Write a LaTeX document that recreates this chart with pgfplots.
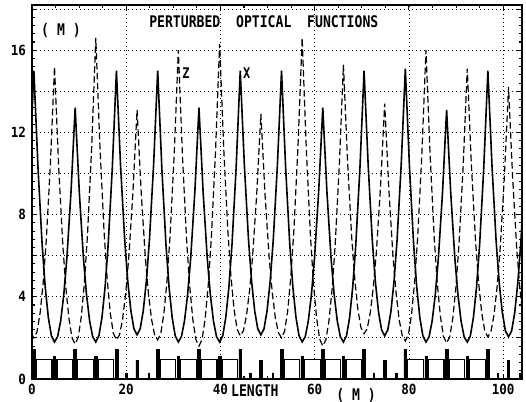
\documentclass[border=0pt]{standalone}
\usepackage{fontspec}
\usepackage{pgfplots}
\pgfplotsset{compat=1.18}
\newfontfamily\plotfont[FakeStretch=0.82]{DejaVu Sans Mono}
\newfontfamily\tickfont[FakeStretch=0.9]{DejaVu Sans Mono}

% beta functions: solid = X, dashed = Z
\pgfplotstableread{
s beta
-0.48 10.36
0.40 15.0
1.28 10.25
2.15 6.55
2.81 4.47
3.47 2.99
4.12 2.10
4.78 1.8
5.44 2.06
6.09 2.83
6.75 4.11
7.41 5.90
8.28 9.10
9.16 13.2
10.04 9.10
10.91 5.90
11.57 4.11
12.23 2.83
12.88 2.06
13.54 1.8
14.20 2.10
14.85 2.99
15.51 4.47
16.17 6.55
17.04 10.25
17.92 15.0
18.80 10.37
19.67 6.78
20.33 4.75
20.99 3.31
21.64 2.44
22.30 2.15
22.96 2.44
23.61 3.31
24.27 4.75
24.93 6.78
25.80 10.37
26.68 15.0
27.56 10.25
28.43 6.55
29.09 4.47
29.75 2.99
30.40 2.10
31.06 1.8
31.72 2.06
32.37 2.83
33.03 4.11
33.69 5.90
34.56 9.10
35.44 13.2
36.32 9.10
37.19 5.90
37.85 4.11
38.51 2.83
39.16 2.06
39.82 1.8
40.48 2.10
41.13 2.99
41.79 4.47
42.45 6.55
43.32 10.25
44.20 15.0
45.08 10.37
45.95 6.78
46.61 4.75
47.27 3.31
47.92 2.44
48.58 2.15
49.24 2.44
49.89 3.31
50.55 4.75
51.21 6.78
52.08 10.37
52.96 15.0
53.84 10.25
54.71 6.55
55.37 4.47
56.03 2.99
56.68 2.10
57.34 1.8
58.00 2.06
58.65 2.83
59.31 4.11
59.97 5.90
60.84 9.10
61.72 13.2
62.60 9.10
63.47 5.90
64.13 4.11
64.79 2.83
65.44 2.06
66.10 1.8
66.76 2.10
67.41 2.99
68.07 4.47
68.73 6.55
69.60 10.25
70.48 15.0
71.36 10.36
72.23 6.74
72.89 4.71
73.55 3.26
74.20 2.39
74.86 2.1
75.52 2.39
76.17 3.27
76.83 4.73
77.49 6.78
78.36 10.42
79.24 15.1
80.12 10.31
80.99 6.59
81.65 4.49
82.31 3.00
82.96 2.10
83.62 1.8
84.28 2.05
84.93 2.82
85.59 4.09
86.25 5.87
87.12 9.03
88.00 13.1
88.88 9.03
89.75 5.87
90.41 4.09
91.07 2.82
91.72 2.05
92.38 1.8
93.04 2.10
93.69 2.99
94.35 4.47
95.01 6.55
95.88 10.25
96.76 15.0
97.64 10.34
98.51 6.71
99.17 4.67
99.83 3.22
100.48 2.34
101.14 2.05
101.80 2.34
102.45 3.22
103.11 4.67
103.77 6.71
104.64 10.34
105.52 15.0
}\betax

\pgfplotstableread{
s beta
-0.26 2.25
0.40 2.0
1.06 2.30
1.71 3.19
2.37 4.67
3.03 6.75
3.90 10.45
4.78 15.2
5.66 10.34
6.53 6.56
7.19 4.43
7.85 2.92
8.50 2.00
9.16 1.7
9.82 2.04
10.47 3.04
11.13 4.72
11.79 7.06
12.66 11.24
13.54 16.6
14.42 11.31
15.29 7.19
15.95 4.88
16.61 3.22
17.26 2.23
17.92 1.9
18.58 2.15
19.23 2.91
19.89 4.17
20.55 5.93
21.42 9.07
22.30 13.1
23.18 9.07
24.05 5.93
24.71 4.17
25.37 2.91
26.02 2.15
26.68 1.9
27.34 2.22
27.99 3.17
28.65 4.76
29.31 6.98
30.18 10.92
31.06 16.0
31.94 10.82
32.81 6.78
33.47 4.52
34.13 2.90
34.78 1.92
35.44 1.6
36.10 1.93
36.75 2.92
37.41 4.58
38.07 6.89
38.94 11.01
39.82 16.3
40.70 11.19
41.57 7.21
42.23 4.98
42.89 3.38
43.54 2.42
44.20 2.1
44.86 2.34
45.51 3.07
46.17 4.29
46.83 5.99
47.70 9.01
48.58 12.9
49.46 8.98
50.33 5.92
50.99 4.21
51.65 2.98
52.30 2.25
52.96 2.0
53.62 2.33
54.27 3.31
54.93 4.96
55.59 7.26
56.46 11.34
57.34 16.6
58.22 11.20
59.09 7.00
59.75 4.64
60.41 2.95
61.06 1.94
61.72 1.6
62.38 1.91
63.03 2.83
63.69 4.37
64.35 6.53
65.22 10.37
66.10 15.3
66.98 10.58
67.85 6.92
68.51 4.85
69.17 3.38
69.82 2.50
70.48 2.2
71.14 2.45
71.79 3.21
72.45 4.47
73.11 6.23
73.98 9.37
74.86 13.4
75.74 9.24
76.61 6.01
77.27 4.19
77.93 2.89
78.58 2.11
79.24 1.85
79.90 2.17
80.55 3.12
81.21 4.72
81.87 6.94
82.74 10.91
83.62 16.0
84.50 10.87
85.37 6.88
86.03 4.64
86.69 3.03
87.34 2.07
88.00 1.75
88.66 2.05
89.31 2.95
89.97 4.45
90.63 6.56
91.50 10.29
92.38 15.1
93.26 10.40
94.13 6.75
94.79 4.69
95.45 3.22
96.10 2.34
96.76 2.05
97.42 2.32
98.07 3.14
98.73 4.51
99.39 6.42
100.26 9.83
101.14 14.2
102.02 9.77
102.89 6.33
103.55 4.39
104.21 3.01
104.86 2.18
105.52 1.9
}\betaz

\begin{document}
\begin{tikzpicture}
\useasboundingbox (-24pt,-17.25pt) rectangle (370.5pt,284.25pt);
\begin{axis}[
  at={(0,0)}, anchor=south west,
  scale only axis, width=367.5pt, height=280.5pt,
  xmin=0, xmax=104, ymin=0, ymax=18.2,
  xtick={0,20,...,100}, ytick={0,2,...,18},
  yticklabels={0,,4,,8,,12,,16,},
  minor x tick num=3, minor y tick num=4,
  major tick length=4pt, minor tick length=2.5pt,
  grid=major,
  major grid style={black, line width=0.6pt, dash pattern=on 0.7pt off 2.3pt},
  axis line style={line width=1pt},
  tick style={black, line width=0.8pt},
  ticklabel style={font=\tickfont\bfseries\fontsize{10.5}{12}\selectfont},
  yticklabel style={xshift=-1pt},
  /pgf/number format/assume math mode=true,
  clip mode=individual,
]
% bending magnets
\addplot[ybar, bar width=3.3, bar shift=0pt, draw=black, line width=0.9pt, fill=white] coordinates {
 (2.59,0.95)(6.97,0.95)(11.35,0.95)(15.73,0.95)
 (28.87,0.95)(33.25,0.95)(37.63,0.95)(42.01,0.95)
 (55.15,0.95)(59.53,0.95)(63.91,0.95)(68.29,0.95)
 (81.43,0.95)(85.81,0.95)(90.19,0.95)(94.57,0.95)
};
% focusing quadrupoles
\addplot[ybar, bar width=0.6, bar shift=0pt, draw=black, fill=black] coordinates {
 (0.40,1.45)(9.16,1.45)(17.92,1.45)(26.68,1.45)(35.44,1.45)(44.20,1.45)
 (52.96,1.45)(61.72,1.45)(70.48,1.45)(79.24,1.45)(88.00,1.45)(96.76,1.45)
};
% defocusing quadrupoles
\addplot[ybar, bar width=0.5, bar shift=0pt, draw=black, fill=black] coordinates {
 (4.78,1.1)(13.54,1.1)(22.30,0.9)(31.06,1.1)(39.82,1.1)(48.58,0.9)
 (57.34,1.1)(66.10,1.1)(74.86,0.9)(83.62,1.1)(92.38,1.1)(101.14,0.9)
};
% small elements in the straight sections
\addplot[ybar, bar width=0.3, bar shift=0pt, draw=black, fill=black] coordinates {
 (20.0,0.3)(24.8,0.3)(46.3,0.3)(51.1,0.3)(72.6,0.3)(77.3,0.3)(98.9,0.3)(103.6,0.3)
};
\addplot[black, line width=1.2pt] table[x=s, y=beta] {\betax};
\addplot[black, line width=0.9pt, dash pattern=on 5pt off 2.5pt] table[x=s, y=beta] {\betaz};

\node[font=\plotfont\bfseries\fontsize{12}{14}\selectfont] at (axis cs:49.2,17.38) {PERTURBED\ \ OPTICAL\ \ FUNCTIONS};
\node[font=\plotfont\bfseries\fontsize{12}{14}\selectfont] at (axis cs:6.15,16.98) {(\ M\ )};
\node[font=\plotfont\bfseries\fontsize{11}{13}\selectfont] at (axis cs:32.7,14.9) {Z};
\node[font=\plotfont\bfseries\fontsize{11}{13}\selectfont] at (axis cs:45.6,14.9) {X};
\node[font=\plotfont\bfseries\fontsize{12}{14}\selectfont] at (axis cs:47.3,-0.58) {LENGTH};
\node[font=\plotfont\bfseries\fontsize{12}{14}\selectfont] at (axis cs:68.8,-0.78) {(\ M\ )};
\end{axis}
\end{tikzpicture}
\end{document}
